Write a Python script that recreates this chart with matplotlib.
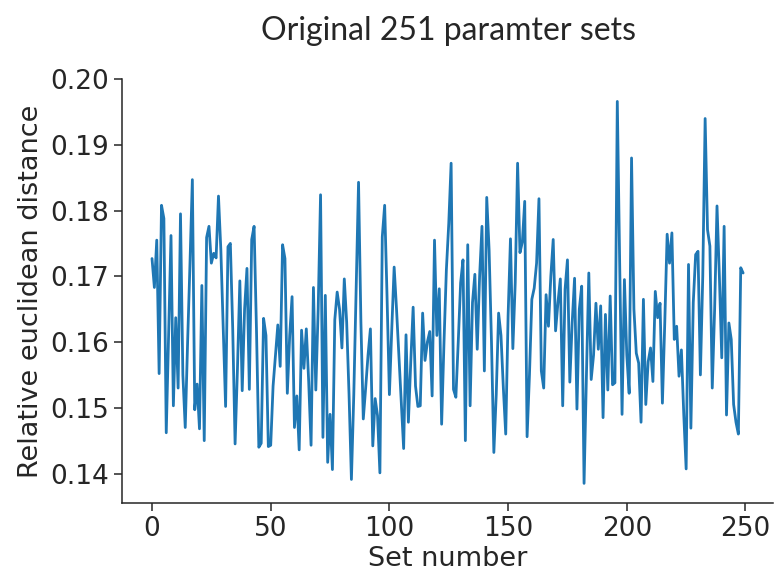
import matplotlib
matplotlib.use("Agg")
import matplotlib.pyplot as plt
import numpy as np
import seaborn as sns

# relative euclidean distance for each parameter set
set_number = np.arange(250)
rel_distance = [
    0.1727, 0.1683, 0.1755, 0.1552, 0.1808, 0.1788, 0.1462, 0.1610, 0.1762, 0.1503,
    0.1637, 0.1530, 0.1795, 0.1550, 0.1470, 0.1600, 0.1720, 0.1847, 0.1497, 0.1536,
    0.1468, 0.1686, 0.1450, 0.1759, 0.1776, 0.1720, 0.1735, 0.1728, 0.1822, 0.1740,
    0.1620, 0.1502, 0.1745, 0.1750, 0.1620, 0.1445, 0.1560, 0.1693, 0.1526, 0.1650,
    0.1712, 0.1528, 0.1756, 0.1776, 0.1620, 0.1440, 0.1446, 0.1636, 0.1610, 0.1441,
    0.1443, 0.1533, 0.1580, 0.1626, 0.1563, 0.1748, 0.1727, 0.1522, 0.1610, 0.1669,
    0.1470, 0.1518, 0.1436, 0.1618, 0.1560, 0.1620, 0.1540, 0.1443, 0.1683, 0.1527,
    0.1650, 0.1824, 0.1455, 0.1671, 0.1417, 0.1490, 0.1406, 0.1634, 0.1676, 0.1650,
    0.1591, 0.1696, 0.1630, 0.1520, 0.1391, 0.1520, 0.1680, 0.1843, 0.1630, 0.1483,
    0.1530, 0.1580, 0.1620, 0.1442, 0.1514, 0.1488, 0.1401, 0.1760, 0.1808, 0.1670,
    0.1520, 0.1620, 0.1714, 0.1650, 0.1580, 0.1510, 0.1438, 0.1611, 0.1478, 0.1570,
    0.1653, 0.1533, 0.1502, 0.1503, 0.1644, 0.1572, 0.1600, 0.1616, 0.1518, 0.1755,
    0.1610, 0.1681, 0.1475, 0.1600, 0.1710, 0.1780, 0.1872, 0.1528, 0.1516, 0.1600,
    0.1690, 0.1725, 0.1450, 0.1748, 0.1503, 0.1660, 0.1703, 0.1589, 0.1700, 0.1776,
    0.1556, 0.1820, 0.1740, 0.1600, 0.1432, 0.1520, 0.1644, 0.1610, 0.1530, 0.1460,
    0.1640, 0.1757, 0.1590, 0.1690, 0.1872, 0.1736, 0.1752, 0.1814, 0.1456, 0.1550,
    0.1665, 0.1682, 0.1720, 0.1818, 0.1556, 0.1530, 0.1672, 0.1624, 0.1700, 0.1756,
    0.1617, 0.1660, 0.1696, 0.1503, 0.1680, 0.1725, 0.1539, 0.1630, 0.1697, 0.1498,
    0.1650, 0.1685, 0.1385, 0.1550, 0.1705, 0.1543, 0.1580, 0.1659, 0.1589, 0.1655,
    0.1485, 0.1642, 0.1527, 0.1670, 0.1535, 0.1538, 0.1966, 0.1720, 0.1490, 0.1695,
    0.1580, 0.1522, 0.1880, 0.1650, 0.1583, 0.1568, 0.1478, 0.1665, 0.1505, 0.1570,
    0.1591, 0.1540, 0.1677, 0.1637, 0.1659, 0.1507, 0.1630, 0.1764, 0.1720, 0.1766,
    0.1604, 0.1624, 0.1548, 0.1588, 0.1490, 0.1407, 0.1718, 0.1469, 0.1660, 0.1733,
    0.1738, 0.1550, 0.1700, 0.1940, 0.1771, 0.1746, 0.1530, 0.1650, 0.1807, 0.1700,
    0.1576, 0.1776, 0.1489, 0.1629, 0.1604, 0.1505, 0.1478, 0.1460, 0.1713, 0.1705,
]
yticks = [0.14, 0.15, 0.16, 0.17, 0.18, 0.19, 0.20]
xticks = [0, 50, 100, 150, 200, 250]

sns.set_style("ticks")
plt.rcParams["font.family"] = ["DejaVu Sans"]

fig = plt.figure(figsize=(7.75, 5.73), dpi=100)
ax = fig.add_axes([0.158, 0.122, 0.839, 0.740])
ax.plot(set_number, rel_distance, color="#1f77b4", lw=2.0)

ax.set_ylim(0.1355, 0.2)
ax.set_yticks(yticks)
ax.set_xticks(xticks)
ax.tick_params(labelsize=19, length=6, width=1.1, colors="#262626")
ax.set_xlabel("Set number", fontsize=19.5, color="#262626", labelpad=3)
ax.set_ylabel("Relative euclidean distance", fontsize=19.5, color="#262626", labelpad=5)
for s in ["left", "bottom"]:
    ax.spines[s].set_color("#262626")
    ax.spines[s].set_linewidth(1.1)
sns.despine(ax=ax)

fig.text(0.579, 0.946, "Original 251 paramter sets", ha="center", va="center",
         fontsize=23, family=["Lato", "DejaVu Sans"], color="#262626")

fig.savefig("out.png", dpi=100)
